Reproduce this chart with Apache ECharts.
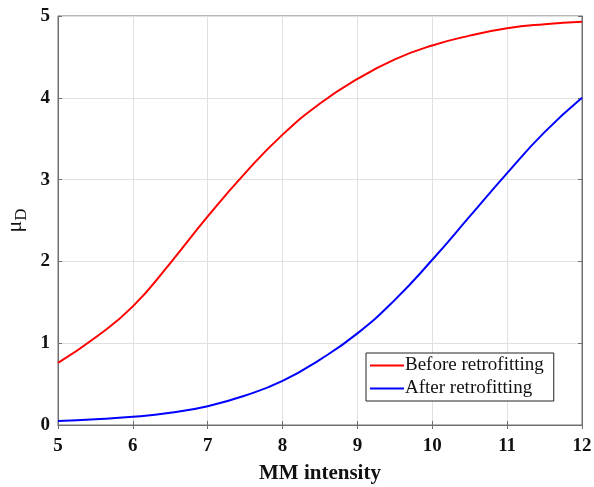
<!DOCTYPE html>
<html>
<head>
<meta charset="utf-8">
<script src="https://cdn.jsdelivr.net/npm/echarts@6/dist/echarts.min.js"></script>
<style>
  html, body { margin: 0; padding: 0; background: #fff; }
  #main { width: 594px; height: 487px; }
</style>
</head>
<body>
<div id="main"></div>
<script>
// MM intensity (x)
const intensity = [5, 5.5, 6, 6.5, 7, 7.5, 8, 8.5, 9, 9.5, 10, 10.5, 11, 11.5, 12]
const before = [0.76, 1.07, 1.45, 1.98, 2.55, 3.08, 3.55, 3.93, 4.23, 4.47, 4.64, 4.76, 4.85, 4.9, 4.93]
const after = [0.05, 0.07, 0.1, 0.15, 0.23, 0.36, 0.54, 0.8, 1.12, 1.53, 2.02, 2.55, 3.08, 3.58, 4.0]

const serif = '"Liberation Serif", "DejaVu Serif", serif'
const axisGray = '#6f6f6f'

function pairs(xs, ys) {
    return xs.map((x, i) => [x, ys[i]])
}

const myChart = echarts.init(document.getElementById('main'))

const tickLabel = { fontFamily: serif, fontWeight: 'bold', fontSize: 19, color: '#111' }

myChart.setOption({
    animation: false,
    grid: {
        left: 58, right: 12, top: 16, bottom: 62,
        containLabel: false, outerBoundsMode: 'none',
        show: true, borderColor: axisGray, borderWidth: 1
    },
    legend: {
        left: 366, top: 353,
        orient: 'vertical',
        backgroundColor: '#fff',
        borderColor: '#222', borderWidth: 1,
        padding: [3, 10, 3, 4],
        itemGap: 4,
        itemWidth: 34, itemHeight: 2,
        icon: 'rect',
        textStyle: { fontFamily: serif, fontSize: 19, color: '#111', padding: [0, 0, 0, -4] },
        data: ['Before retrofitting', 'After retrofitting']
    },
    xAxis: [{
        type: 'value', min: 5, max: 12, interval: 1,
        name: 'MM intensity', nameLocation: 'middle', nameGap: 38,
        nameTextStyle: { fontFamily: serif, fontWeight: 'bold', fontSize: 21, color: '#111' },
        axisLine: { show: true, lineStyle: { color: axisGray } },
        axisTick: { show: true, inside: true, length: 4, lineStyle: { color: axisGray } },
        axisLabel: Object.assign({ margin: 12 }, tickLabel),
        splitLine: { show: true, lineStyle: { color: '#e0e0e0' } }
    }, {
        type: 'value', min: 5, max: 12, interval: 1, position: 'top',
        axisLine: { show: true, lineStyle: { color: axisGray } },
        axisTick: { show: true, inside: true, length: 4, lineStyle: { color: axisGray } },
        axisLabel: { show: false },
        splitLine: { show: false }
    }],
    yAxis: [{
        type: 'value', min: 0, max: 5, interval: 1,
        name: '{mu|μ}{sub|D}', nameLocation: 'middle', nameGap: 28, nameRotate: 90,
        nameTextStyle: {
            rich: {
                mu: { fontFamily: serif, fontSize: 22, color: '#111' },
                sub: { fontFamily: serif, fontSize: 17, color: '#111', padding: [12, 0, 0, 0] }
            }
        },
        axisLine: { show: true, lineStyle: { color: axisGray } },
        axisTick: { show: true, inside: true, length: 4, lineStyle: { color: axisGray } },
        axisLabel: Object.assign({ margin: 8 }, tickLabel),
        splitLine: { show: true, lineStyle: { color: '#e0e0e0' } }
    }, {
        type: 'value', min: 0, max: 5, interval: 1, position: 'right',
        axisLine: { show: true, lineStyle: { color: axisGray } },
        axisTick: { show: true, inside: true, length: 4, lineStyle: { color: axisGray } },
        axisLabel: { show: false },
        splitLine: { show: false }
    }],
    series: [{
        name: 'Before retrofitting',
        type: 'line', smooth: true, showSymbol: false,
        lineStyle: { color: '#ff0000', width: 2 },
        itemStyle: { color: '#ff0000' },
        data: pairs(intensity, before)
    }, {
        name: 'After retrofitting',
        type: 'line', smooth: true, showSymbol: false,
        lineStyle: { color: '#0000ff', width: 2 },
        itemStyle: { color: '#0000ff' },
        data: pairs(intensity, after)
    }]
})
</script>
</body>
</html>
